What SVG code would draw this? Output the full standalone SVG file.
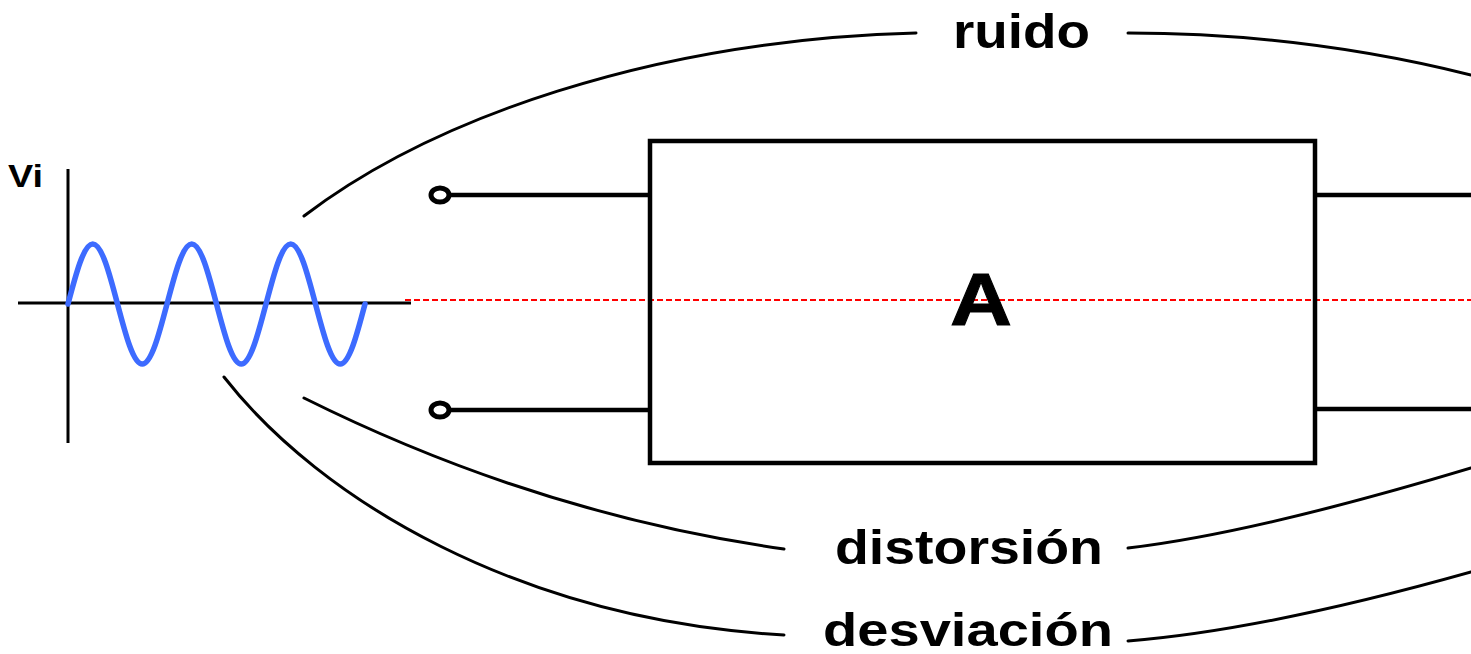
<svg xmlns="http://www.w3.org/2000/svg" width="1471" height="654" viewBox="0 0 1471 654">
<style>
  .ln { fill: none; stroke: #000; stroke-width: 4.5; stroke-linecap: butt; }
  .arc { fill: none; stroke: #000; stroke-width: 3; stroke-linecap: round; }
  .axis { fill: none; stroke: #000; stroke-width: 3; }
  .term { fill: #fff; stroke: #000; stroke-width: 5; }
  .lbl { font-family: "Liberation Sans", Arial, sans-serif; font-weight: bold; fill: #000; }
</style>
<rect width="1471" height="654" fill="#fff"/>

<g id="signal">
  <line class="axis" x1="68" y1="169" x2="68" y2="443"/>
  <line class="axis" x1="18" y1="303" x2="411" y2="303"/>
  <path fill="none" stroke="#3d6bff" stroke-width="5.5" stroke-linejoin="round" stroke-linecap="round"
    d="M68,304 c8.07,-30.7 15.79,-60 24.75,-60 c8.96,0 16.68,29.3 24.75,60 c8.07,30.7 15.79,60 24.75,60 c8.96,0 16.68,-29.3 24.75,-60
       c8.07,-30.7 15.79,-60 24.75,-60 c8.96,0 16.68,29.3 24.75,60 c8.07,30.7 15.79,60 24.75,60 c8.96,0 16.68,-29.3 24.75,-60
       c8.07,-30.7 15.79,-60 24.75,-60 c8.96,0 16.68,29.3 24.75,60 c8.07,30.7 15.79,60 24.75,60 c8.96,0 16.68,-29.3 24.75,-60"/>
  <text class="lbl" x="8" y="187" font-size="31" textLength="35" lengthAdjust="spacingAndGlyphs">Vi</text>
</g>

<g id="axis-ref">
  <line x1="405" y1="300" x2="1471" y2="300" stroke="#ff0000" stroke-width="2" stroke-dasharray="6 3"/>
</g>

<g id="amplifier">
  <rect class="ln" x="650" y="141" width="665" height="322"/>
  <text class="lbl" x="950" y="325" font-size="74" textLength="62" lengthAdjust="spacingAndGlyphs" stroke="#000" stroke-width="1">A</text>
</g>

<g id="connectors">
  <line class="ln" x1="448" y1="195" x2="650" y2="195"/>
  <line class="ln" x1="448" y1="410" x2="650" y2="410"/>
  <line class="ln" x1="1315" y1="195" x2="1471" y2="195"/>
  <line class="ln" x1="1315" y1="409" x2="1471" y2="409"/>
  <ellipse class="term" cx="440" cy="195" rx="9" ry="7"/>
  <ellipse class="term" cx="440" cy="410" rx="9" ry="7"/>
</g>

<g id="ruido">
  <path class="arc" d="M304,216 C430,120 650,40 916,33"/>
  <path class="arc" d="M1128,33 Q1303,33 1471,75"/>
  <text class="lbl" x="953" y="48" font-size="48" textLength="137" lengthAdjust="spacingAndGlyphs">ruido</text>
</g>

<g id="distorsion">
  <path class="arc" d="M304,398 Q537,514 784,549"/>
  <path class="arc" d="M1128,548 Q1255,533 1471,468"/>
  <text class="lbl" x="835" y="564" font-size="48" textLength="268" lengthAdjust="spacingAndGlyphs">distorsión</text>
</g>

<g id="desviacion">
  <path class="arc" d="M224,377 C320,500 520,620 784,635"/>
  <path class="arc" d="M1128,641 Q1265,630 1471,572"/>
  <text class="lbl" x="823" y="646" font-size="47" textLength="290" lengthAdjust="spacingAndGlyphs">desviación</text>
</g>
</svg>
